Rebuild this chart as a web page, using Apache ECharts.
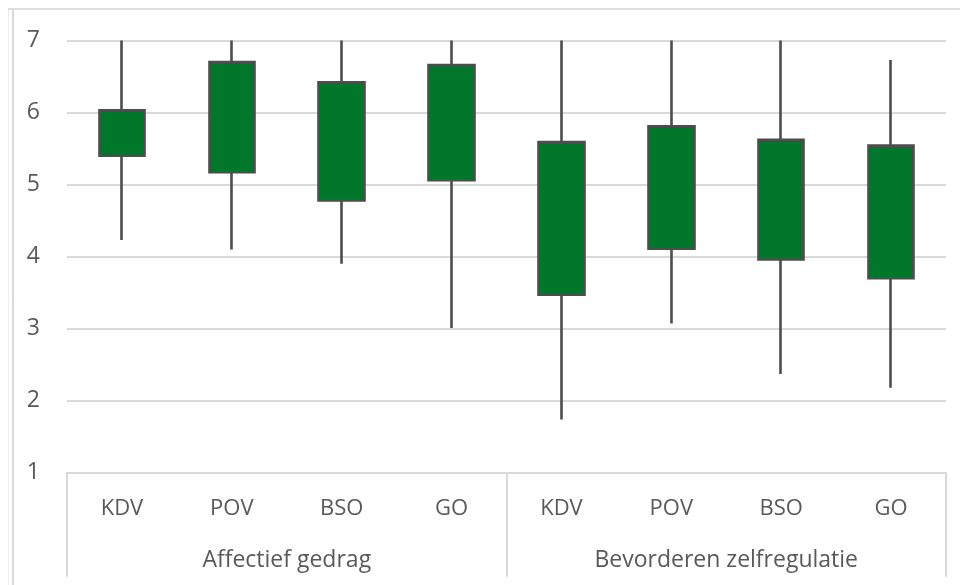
<!DOCTYPE html>
<html>
<head>
<meta charset="utf-8">
<script src="https://cdn.jsdelivr.net/npm/echarts@6/dist/echarts.min.js"></script>
<style>
  html, body { margin: 0; padding: 0; background: #fff; }
  #chart { width: 960px; height: 585px; }
</style>
</head>
<body>
<div id="chart"></div>
<script>
// categories and groups
var categories = ['KDV', 'POV', 'BSO', 'GO', 'KDV', 'POV', 'BSO', 'GO']
var groups = ['Affectief gedrag', 'Bevorderen zelfregulatie']
// box bottom / box top / whisker ends
var boxLow = [5.40, 5.17, 4.78, 5.06, 3.47, 4.11, 3.96, 3.70]
var boxHigh = [6.03, 6.70, 6.42, 6.66, 5.59, 5.81, 5.62, 5.54]
var lows = [4.23, 4.10, 3.90, 3.01, 1.74, 3.07, 2.37, 2.18]
var highs = [7, 7, 7, 7, 7, 7, 7, 6.73]
var yTicks = [1, 2, 3, 4, 5, 6, 7]

var textColor = '#595959'
var lineColor = '#d9d9d9'

// candlestick wants [open, close, lowest, highest]
var candleData = categories.map(function (c, i) {
  return [boxLow[i], boxHigh[i], lows[i], highs[i]]
})

var chart = echarts.init(document.getElementById('chart'))
var option = {
  animation: false,
  textStyle: { fontFamily: 'Open Sans' },
  grid: { left: 67, right: 14, top: 40.5, bottom: 112.3 },
  xAxis: [{
    type: 'category',
    data: categories,
    axisLine: { show: true, lineStyle: { color: lineColor, width: 2 } },
    axisTick: { show: false },
    axisLabel: { color: textColor, fontSize: 22, margin: 25 }
  }, {
    type: 'category',
    position: 'bottom',
    data: groups,
    axisLine: { show: true, lineStyle: { color: lineColor, width: 2 } },
    axisTick: { show: true, length: 104, lineStyle: { color: lineColor, width: 2 } },
    axisLabel: { color: textColor, fontSize: 23, margin: 76 }
  }],
  yAxis: {
    type: 'value',
    min: yTicks[0],
    max: yTicks[yTicks.length - 1],
    interval: 1,
    axisLine: { show: false },
    axisTick: { show: false },
    axisLabel: { color: textColor, fontSize: 23, margin: 27 },
    splitLine: { lineStyle: { color: lineColor, width: 2 } }
  },
  series: [{
    type: 'candlestick',
    xAxisIndex: 0,
    barWidth: 46,
    data: candleData,
    itemStyle: {
      color: '#00772B',
      color0: '#00772B',
      borderColor: '#4d4d4d',
      borderColor0: '#4d4d4d',
      borderWidth: 2.6
    }
  }],
  graphic: [
    { type: 'line', shape: { x1: 8.5, y1: 8, x2: 8.5, y2: 585 }, style: { stroke: '#ececec', lineWidth: 1 } },
    { type: 'line', shape: { x1: 13, y1: 8, x2: 13, y2: 585 }, style: { stroke: '#dadada', lineWidth: 2 } },
    { type: 'line', shape: { x1: 8, y1: 9, x2: 960, y2: 9 }, style: { stroke: '#dedede', lineWidth: 2 } }
  ]
}
chart.setOption(option)
</script>
</body>
</html>
